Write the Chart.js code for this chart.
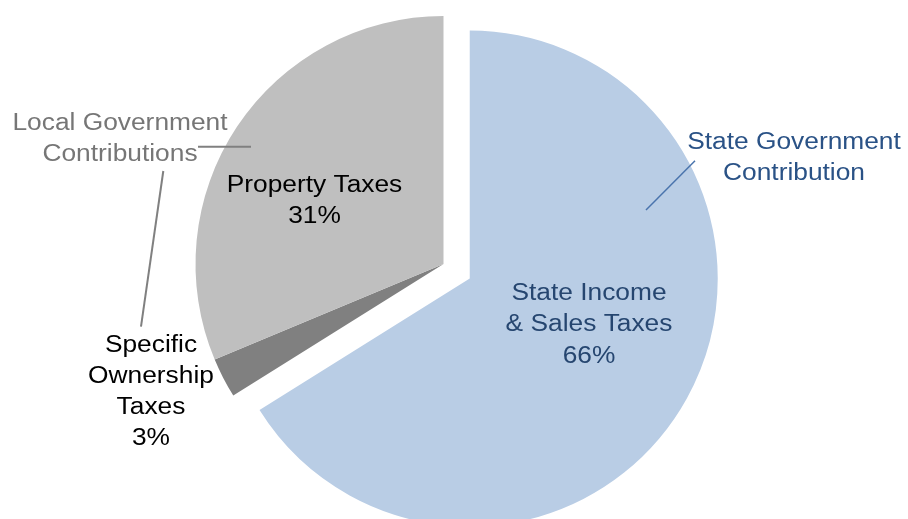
<!DOCTYPE html>
<html>
<head>
<meta charset="utf-8">
<script src="https://cdn.jsdelivr.net/npm/chart.js@4"></script>
<style>
  body { margin: 0; background: #fff; }
  canvas { display: block; }
</style>
</head>
<body>
<canvas id="myChart" width="908" height="519"></canvas>
<script>
// slices, clockwise from the top
const categories = ['State Income & Sales Taxes', 'Specific Ownership Taxes', 'Property Taxes'];
const shares = [66.1, 2.6, 31.3];
const percentLabels = ['66%', '3%', '31%'];
const sliceColors = ['#B9CDE5', '#808080', '#BFBFBF'];
const explode = [30, 0, 0];

const FONT = '"Liberation Sans", Arial, sans-serif';

// text blocks: lines, x centre, first baseline, color
const textBlocks = [
  { lines: ['State Income', '& Sales Taxes', percentLabels[0]], x: 589, y: 300, color: '#264670' },
  { lines: ['Specific', 'Ownership', 'Taxes', percentLabels[1]], x: 151, y: 351.5, color: '#000000' },
  { lines: ['Property Taxes', percentLabels[2]], x: 314.5, y: 191.5, color: '#000000' },
  { lines: ['Local Government', 'Contributions'], x: 120, y: 130, color: '#767676' },
  { lines: ['State Government', 'Contribution'], x: 794, y: 148.5, color: '#2A5286' }
];

const leaderLines = [
  { from: [198, 146.7], to: [251, 146.7], color: '#808080', width: 2 },
  { from: [163.3, 171], to: [141, 326.7], color: '#808080', width: 2 },
  { from: [695, 160.7], to: [646, 210], color: '#4A74AD', width: 1.5 }
];

// pull exploded slices out along their middle angle, keeping the same radius
const explodePlugin = {
  id: 'explode',
  afterUpdate(chart) {
    const meta = chart.getDatasetMeta(0);
    meta.data.forEach(function(arc, i) {
      const d = explode[i];
      if (!d) return;
      const mid = (arc.startAngle + arc.endAngle) / 2;
      arc.x += Math.cos(mid) * d;
      arc.y += Math.sin(mid) * d;
    });
  }
};

const labelPlugin = {
  id: 'labels',
  afterDraw(chart) {
    const ctx = chart.ctx;
    ctx.save();
    leaderLines.forEach(function(l) {
      ctx.beginPath();
      ctx.moveTo(l.from[0], l.from[1]);
      ctx.lineTo(l.to[0], l.to[1]);
      ctx.strokeStyle = l.color;
      ctx.lineWidth = l.width;
      ctx.stroke();
    });
    ctx.font = '23.5px ' + FONT;
    ctx.textAlign = 'center';
    ctx.textBaseline = 'alphabetic';
    textBlocks.forEach(function(b) {
      ctx.fillStyle = b.color;
      b.lines.forEach(function(line, j) {
        ctx.save();
        ctx.translate(b.x, b.y + j * 31.3);
        ctx.scale(1.12, 1);
        ctx.fillText(line, 0, 0);
        ctx.restore();
      });
    });
    ctx.restore();
  }
};

const config = {
  type: 'pie',
  data: {
    labels: categories,
    datasets: [{
      data: shares,
      backgroundColor: sliceColors,
      borderWidth: 0,
      hoverOffset: 0,
      clip: false
    }]
  },
  options: {
    responsive: false,
    animation: false,
    radius: 248,
    layout: { padding: { left: 0, right: 21, top: 9, bottom: 0 } },
    plugins: {
      legend: { display: false },
      tooltip: { enabled: false }
    }
  },
  plugins: [explodePlugin, labelPlugin]
};

const myChart = new Chart(document.getElementById('myChart'), config);
</script>
</body>
</html>
